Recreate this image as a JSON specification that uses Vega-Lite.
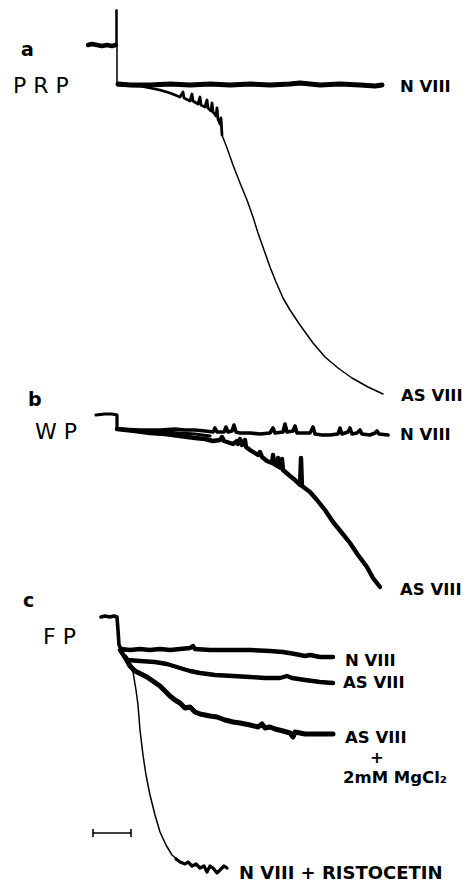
{
  "$schema": "https://vega.github.io/schema/vega-lite/v6.json",
  "width": 467,
  "height": 884,
  "autosize": {"type": "fit", "contains": "padding"},
  "padding": 0,
  "background": "white",
  "config": {"view": {"stroke": null}},
  "datasets": {
    "traces": [
      {"s":"aPre","x":88,"y":45},{"s":"aPre","x":92,"y":44},{"s":"aPre","x":97,"y":45},{"s":"aPre","x":102,"y":46},{"s":"aPre","x":107,"y":45},{"s":"aPre","x":112,"y":46},{"s":"aPre","x":116,"y":45},
      {"s":"aSpike","x":116,"y":45},{"s":"aSpike","x":116,"y":10},{"s":"aSpike","x":117,"y":10},{"s":"aSpike","x":117,"y":82},{"s":"aSpike","x":119,"y":85},
      {"s":"aN","x":118,"y":84},{"s":"aN","x":130,"y":85},{"s":"aN","x":150,"y":85},{"s":"aN","x":170,"y":84},{"s":"aN","x":190,"y":85},{"s":"aN","x":210,"y":84},{"s":"aN","x":230,"y":85},{"s":"aN","x":250,"y":84},{"s":"aN","x":270,"y":85},{"s":"aN","x":290,"y":84},{"s":"aN","x":300,"y":83},{"s":"aN","x":320,"y":85},{"s":"aN","x":340,"y":84},{"s":"aN","x":360,"y":85},{"s":"aN","x":375,"y":86},{"s":"aN","x":382,"y":85},
      {"s":"aAS1","x":118,"y":85},{"s":"aAS1","x":140,"y":86},{"s":"aAS1","x":150,"y":88},{"s":"aAS1","x":160,"y":90},{"s":"aAS1","x":170,"y":93},{"s":"aAS1","x":180,"y":97},{"s":"aAS1","x":183,"y":92},{"s":"aAS1","x":184,"y":98},{"s":"aAS1","x":190,"y":101},{"s":"aAS1","x":192,"y":94},{"s":"aAS1","x":193,"y":101},{"s":"aAS1","x":198,"y":104},{"s":"aAS1","x":200,"y":97},{"s":"aAS1","x":201,"y":105},{"s":"aAS1","x":205,"y":107},{"s":"aAS1","x":207,"y":100},{"s":"aAS1","x":208,"y":108},{"s":"aAS1","x":211,"y":111},{"s":"aAS1","x":212,"y":103},{"s":"aAS1","x":213,"y":112},{"s":"aAS1","x":216,"y":116},{"s":"aAS1","x":217,"y":108},{"s":"aAS1","x":218,"y":119},{"s":"aAS1","x":220,"y":124},{"s":"aAS1","x":221,"y":118},{"s":"aAS1","x":222,"y":135},
      {"s":"aAS2","x":222,"y":135},{"s":"aAS2","x":227,"y":148},{"s":"aAS2","x":233,"y":165},{"s":"aAS2","x":240,"y":183},{"s":"aAS2","x":247,"y":200},{"s":"aAS2","x":253,"y":217},{"s":"aAS2","x":258,"y":233},{"s":"aAS2","x":264,"y":250},{"s":"aAS2","x":270,"y":267},{"s":"aAS2","x":276,"y":282},{"s":"aAS2","x":283,"y":298},{"s":"aAS2","x":290,"y":310},{"s":"aAS2","x":300,"y":325},{"s":"aAS2","x":313,"y":343},{"s":"aAS2","x":325,"y":357},{"s":"aAS2","x":338,"y":368},{"s":"aAS2","x":352,"y":378},{"s":"aAS2","x":368,"y":387},{"s":"aAS2","x":383,"y":394},
      {"s":"bPre","x":96,"y":415},{"s":"bPre","x":105,"y":414},{"s":"bPre","x":112,"y":414},{"s":"bPre","x":117,"y":415},{"s":"bPre","x":117,"y":428},{"s":"bPre","x":119,"y":429},
      {"s":"bN","x":117,"y":429},{"s":"bN","x":140,"y":430},{"s":"bN","x":160,"y":430},{"s":"bN","x":175,"y":429},{"s":"bN","x":185,"y":430},{"s":"bN","x":195,"y":430},{"s":"bN","x":205,"y":431},{"s":"bN","x":213,"y":432},{"s":"bN","x":215,"y":428},{"s":"bN","x":217,"y":432},{"s":"bN","x":224,"y":432},{"s":"bN","x":226,"y":427},{"s":"bN","x":228,"y":432},{"s":"bN","x":232,"y":431},{"s":"bN","x":234,"y":425},{"s":"bN","x":236,"y":432},{"s":"bN","x":240,"y":433},{"s":"bN","x":250,"y":433},{"s":"bN","x":260,"y":434},{"s":"bN","x":270,"y":433},{"s":"bN","x":273,"y":428},{"s":"bN","x":275,"y":433},{"s":"bN","x":283,"y":432},{"s":"bN","x":285,"y":424},{"s":"bN","x":287,"y":432},{"s":"bN","x":293,"y":431},{"s":"bN","x":295,"y":426},{"s":"bN","x":297,"y":433},{"s":"bN","x":310,"y":433},{"s":"bN","x":313,"y":427},{"s":"bN","x":315,"y":434},{"s":"bN","x":322,"y":435},{"s":"bN","x":330,"y":435},{"s":"bN","x":338,"y":434},{"s":"bN","x":340,"y":428},{"s":"bN","x":342,"y":434},{"s":"bN","x":348,"y":432},{"s":"bN","x":350,"y":428},{"s":"bN","x":352,"y":434},{"s":"bN","x":357,"y":433},{"s":"bN","x":360,"y":430},{"s":"bN","x":362,"y":434},{"s":"bN","x":370,"y":435},{"s":"bN","x":375,"y":433},{"s":"bN","x":377,"y":431},{"s":"bN","x":379,"y":434},{"s":"bN","x":388,"y":435},
      {"s":"bW","x":150,"y":431},{"s":"bW","x":165,"y":432},{"s":"bW","x":180,"y":433},{"s":"bW","x":195,"y":434},{"s":"bW","x":210,"y":436},
      {"s":"bAS","x":117,"y":429},{"s":"bAS","x":135,"y":431},{"s":"bAS","x":150,"y":433},{"s":"bAS","x":165,"y":434},{"s":"bAS","x":180,"y":436},{"s":"bAS","x":195,"y":438},{"s":"bAS","x":205,"y":439},{"s":"bAS","x":213,"y":441},{"s":"bAS","x":220,"y":440},{"s":"bAS","x":222,"y":437},{"s":"bAS","x":224,"y":441},{"s":"bAS","x":233,"y":444},{"s":"bAS","x":237,"y":441},{"s":"bAS","x":238,"y":444},{"s":"bAS","x":240,"y":439},{"s":"bAS","x":242,"y":445},{"s":"bAS","x":245,"y":440},{"s":"bAS","x":246,"y":447},{"s":"bAS","x":250,"y":450},{"s":"bAS","x":258,"y":455},{"s":"bAS","x":260,"y":452},{"s":"bAS","x":262,"y":457},{"s":"bAS","x":267,"y":461},{"s":"bAS","x":272,"y":463},{"s":"bAS","x":273,"y":455},{"s":"bAS","x":274,"y":464},{"s":"bAS","x":277,"y":466},{"s":"bAS","x":278,"y":458},{"s":"bAS","x":279,"y":467},{"s":"bAS","x":281,"y":468},{"s":"bAS","x":282,"y":459},{"s":"bAS","x":283,"y":470},{"s":"bAS","x":290,"y":476},{"s":"bAS","x":295,"y":480},{"s":"bAS","x":300,"y":485},{"s":"bAS","x":301,"y":458},{"s":"bAS","x":302,"y":486},{"s":"bAS","x":310,"y":492},{"s":"bAS","x":317,"y":500},{"s":"bAS","x":325,"y":510},{"s":"bAS","x":333,"y":522},{"s":"bAS","x":342,"y":533},{"s":"bAS","x":350,"y":543},{"s":"bAS","x":358,"y":555},{"s":"bAS","x":367,"y":567},{"s":"bAS","x":373,"y":578},{"s":"bAS","x":380,"y":587},
      {"s":"cPre","x":101,"y":617},{"s":"cPre","x":105,"y":616},{"s":"cPre","x":110,"y":617},{"s":"cPre","x":114,"y":616},{"s":"cPre","x":117,"y":617},{"s":"cPre","x":118,"y":630},{"s":"cPre","x":119,"y":645},{"s":"cPre","x":121,"y":649},{"s":"cPre","x":125,"y":650},
      {"s":"cN","x":121,"y":649},{"s":"cN","x":130,"y":650},{"s":"cN","x":140,"y":649},{"s":"cN","x":150,"y":650},{"s":"cN","x":160,"y":649},{"s":"cN","x":170,"y":650},{"s":"cN","x":180,"y":649},{"s":"cN","x":190,"y":648},{"s":"cN","x":193,"y":646},{"s":"cN","x":195,"y":649},{"s":"cN","x":210,"y":650},{"s":"cN","x":230,"y":650},{"s":"cN","x":250,"y":650},{"s":"cN","x":270,"y":651},{"s":"cN","x":283,"y":652},{"s":"cN","x":295,"y":654},{"s":"cN","x":305,"y":656},{"s":"cN","x":310,"y":655},{"s":"cN","x":320,"y":657},{"s":"cN","x":333,"y":657},
      {"s":"cAS","x":120,"y":650},{"s":"cAS","x":124,"y":656},{"s":"cAS","x":128,"y":660},{"s":"cAS","x":140,"y":661},{"s":"cAS","x":155,"y":662},{"s":"cAS","x":167,"y":664},{"s":"cAS","x":180,"y":668},{"s":"cAS","x":190,"y":671},{"s":"cAS","x":200,"y":673},{"s":"cAS","x":215,"y":675},{"s":"cAS","x":233,"y":676},{"s":"cAS","x":250,"y":677},{"s":"cAS","x":265,"y":678},{"s":"cAS","x":280,"y":678},{"s":"cAS","x":287,"y":676},{"s":"cAS","x":292,"y":678},{"s":"cAS","x":305,"y":680},{"s":"cAS","x":320,"y":682},{"s":"cAS","x":333,"y":683},
      {"s":"cMg","x":125,"y":657},{"s":"cMg","x":130,"y":666},{"s":"cMg","x":135,"y":671},{"s":"cMg","x":147,"y":677},{"s":"cMg","x":160,"y":686},{"s":"cMg","x":170,"y":696},{"s":"cMg","x":175,"y":700},{"s":"cMg","x":180,"y":703},{"s":"cMg","x":185,"y":708},{"s":"cMg","x":190,"y":707},{"s":"cMg","x":195,"y":712},{"s":"cMg","x":200,"y":714},{"s":"cMg","x":210,"y":716},{"s":"cMg","x":217,"y":717},{"s":"cMg","x":225,"y":720},{"s":"cMg","x":233,"y":722},{"s":"cMg","x":240,"y":723},{"s":"cMg","x":250,"y":725},{"s":"cMg","x":258,"y":727},{"s":"cMg","x":262,"y":724},{"s":"cMg","x":265,"y":728},{"s":"cMg","x":270,"y":727},{"s":"cMg","x":275,"y":729},{"s":"cMg","x":283,"y":731},{"s":"cMg","x":290,"y":733},{"s":"cMg","x":293,"y":737},{"s":"cMg","x":295,"y":732},{"s":"cMg","x":305,"y":734},{"s":"cMg","x":320,"y":734},{"s":"cMg","x":333,"y":734},
      {"s":"cR","x":130,"y":667},{"s":"cR","x":133,"y":672},{"s":"cR","x":136,"y":690},{"s":"cR","x":138,"y":705},{"s":"cR","x":140,"y":730},{"s":"cR","x":143,"y":755},{"s":"cR","x":146,"y":775},{"s":"cR","x":150,"y":795},{"s":"cR","x":155,"y":815},{"s":"cR","x":160,"y":832},{"s":"cR","x":166,"y":845},{"s":"cR","x":172,"y":855},{"s":"cR","x":178,"y":860},
      {"s":"cRtail","x":176,"y":859},{"s":"cRtail","x":180,"y":862},{"s":"cRtail","x":185,"y":864},{"s":"cRtail","x":188,"y":862},{"s":"cRtail","x":192,"y":866},{"s":"cRtail","x":196,"y":864},{"s":"cRtail","x":200,"y":868},{"s":"cRtail","x":204,"y":866},{"s":"cRtail","x":207,"y":872},{"s":"cRtail","x":210,"y":866},{"s":"cRtail","x":213,"y":868},{"s":"cRtail","x":217,"y":873},{"s":"cRtail","x":220,"y":870},{"s":"cRtail","x":224,"y":866},{"s":"cRtail","x":227,"y":868}
    ],
    "bar": [
      {"x":93,"x2":131,"y":833,"y2":833},
      {"x":93,"x2":93,"y":829,"y2":837},
      {"x":131,"x2":131,"y":829,"y2":837}
    ],
    "letters": [
      {"t":"a","x":21,"y":50},{"t":"b","x":28,"y":400},{"t":"c","x":23,"y":601}
    ],
    "preps": [
      {"t":"P R P","x":13,"y":86},{"t":"W P","x":35,"y":432},{"t":"F P","x":43,"y":637}
    ],
    "labels": [
      {"t":"N VIII","x":400,"y":87},
      {"t":"AS VIII","x":401,"y":396},
      {"t":"N VIII","x":400,"y":435},
      {"t":"AS VIII","x":400,"y":590},
      {"t":"N VIII","x":345,"y":661},
      {"t":"AS VIII","x":343,"y":683},
      {"t":"AS VIII","x":345,"y":738},
      {"t":"+","x":370,"y":758},
      {"t":"2mM MgCl₂","x":343,"y":778}
    ],
    "risto": [
      {"t":"N VIII + RISTOCETIN","x":239,"y":874}
    ]
  },
  "encoding": {
    "x": {"field": "x", "type": "quantitative", "axis": null, "scale": {"domain": [0, 467], "nice": false, "zero": false}},
    "y": {"field": "y", "type": "quantitative", "axis": null, "scale": {"domain": [0, 884], "nice": false, "zero": false, "reverse": true}}
  },
  "layer": [
    {
      "data": {"name": "traces"},
      "transform": [{"filter": {"field": "s", "oneOf": ["aSpike", "aAS2", "cR"]}}],
      "mark": {"type": "line", "color": "black", "strokeWidth": 1.5, "strokeCap": "round", "strokeJoin": "round"},
      "encoding": {"order": {"value": null}, "detail": {"field": "s", "type": "nominal"}}
    },
    {
      "data": {"name": "traces"},
      "transform": [{"filter": {"field": "s", "oneOf": ["aAS1"]}}],
      "mark": {"type": "line", "color": "black", "strokeWidth": 2.8, "strokeCap": "round", "strokeJoin": "round"},
      "encoding": {"order": {"value": null}, "detail": {"field": "s", "type": "nominal"}}
    },
    {
      "data": {"name": "traces"},
      "transform": [{"filter": {"field": "s", "oneOf": ["bPre", "cRtail", "bW"]}}],
      "mark": {"type": "line", "color": "black", "strokeWidth": 3.2, "strokeCap": "round", "strokeJoin": "round"},
      "encoding": {"order": {"value": null}, "detail": {"field": "s", "type": "nominal"}}
    },
    {
      "data": {"name": "traces"},
      "transform": [{"filter": {"field": "s", "oneOf": ["bN", "cPre"]}}],
      "mark": {"type": "line", "color": "black", "strokeWidth": 3.6, "strokeCap": "round", "strokeJoin": "round"},
      "encoding": {"order": {"value": null}, "detail": {"field": "s", "type": "nominal"}}
    },
    {
      "data": {"name": "traces"},
      "transform": [{"filter": {"field": "s", "oneOf": ["aPre", "bAS", "cN", "cAS"]}}],
      "mark": {"type": "line", "color": "black", "strokeWidth": 4.4, "strokeCap": "round", "strokeJoin": "round"},
      "encoding": {"order": {"value": null}, "detail": {"field": "s", "type": "nominal"}}
    },
    {
      "data": {"name": "traces"},
      "transform": [{"filter": {"field": "s", "oneOf": ["aN", "cMg"]}}],
      "mark": {"type": "line", "color": "black", "strokeWidth": 5, "strokeCap": "round", "strokeJoin": "round"},
      "encoding": {"order": {"value": null}, "detail": {"field": "s", "type": "nominal"}}
    },
    {
      "data": {"name": "bar"},
      "mark": {"type": "rule", "color": "black", "strokeWidth": 1.6},
      "encoding": {
        "x2": {"field": "x2"},
        "y2": {"field": "y2"}
      }
    },
    {
      "data": {"name": "letters"},
      "mark": {"type": "text", "align": "left", "baseline": "middle", "font": "DejaVu Sans", "fontWeight": "bold", "fontSize": 19, "color": "black"},
      "encoding": {"text": {"field": "t"}}
    },
    {
      "data": {"name": "preps"},
      "mark": {"type": "text", "align": "left", "baseline": "middle", "font": "DejaVu Sans", "fontWeight": "normal", "fontSize": 22, "color": "black"},
      "encoding": {"text": {"field": "t"}}
    },
    {
      "data": {"name": "labels"},
      "mark": {"type": "text", "align": "left", "baseline": "middle", "font": "DejaVu Sans", "fontWeight": "bold", "fontSize": 16.5, "color": "black"},
      "encoding": {"text": {"field": "t"}}
    },
    {
      "data": {"name": "risto"},
      "mark": {"type": "text", "align": "left", "baseline": "middle", "font": "DejaVu Sans", "fontWeight": "bold", "fontSize": 18, "color": "black"},
      "encoding": {"text": {"field": "t"}}
    }
  ]
}
